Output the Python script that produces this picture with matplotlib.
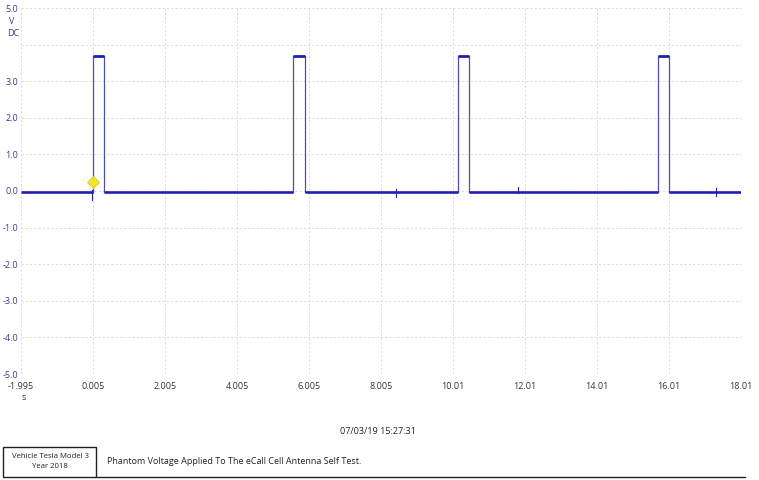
import matplotlib
matplotlib.use("Agg")
import matplotlib.pyplot as plt
from matplotlib.lines import Line2D
from matplotlib.patches import Rectangle

# ---- data ----
x_ticks = [-1.995, 0.005, 2.005, 4.005, 6.005, 8.005, 10.005, 12.005, 14.005, 16.005, 18.005]
x_tick_labels = ["-1.995", "0.005", "2.005", "4.005", "6.005", "8.005",
                 "10.01", "12.01", "14.01", "16.01", "18.01"]
y_ticks = [5.0, 3.0, 2.0, 1.0, 0.0, -1.0, -2.0, -3.0, -4.0, -5.0]
y_tick_labels = ["5.0", "3.0", "2.0", "1.0", "0.0", "-1.0", "-2.0", "-3.0", "-4.0", "-5.0"]
y_grid = [5.0, 4.0, 3.0, 2.0, 1.0, 0.0, -1.0, -2.0, -3.0, -4.0, -5.0]

pulse_rise = [0.005, 5.56, 10.14, 15.70]   # s
pulse_fall = [0.31, 5.89, 10.45, 16.01]    # s
high_level = 3.68                          # V
low_level = -0.02                          # V
spike_t = [-0.03, 8.42, 11.82, 17.32]
spike_lo = [-0.24, -0.16, -0.06, -0.14]
spike_hi = [0.02, 0.06, 0.10, 0.08]
trigger_t = 0.005
trigger_v = 0.25
t_start, t_end = -1.995, 18.01

# ---- figure ----
fig = plt.figure(figsize=(7.59, 4.80), dpi=100)
ax = fig.add_axes([21/759, 1-374/480, 720/759, 366/480])
font = "Open Sans"
plt.rcParams['font.family'] = [font, 'DejaVu Sans']

trace_c = "#1f1fb2"
edge_c = "#5050ac"

# baseline segments (between pulses)
seg_starts = [t_start] + pulse_fall
seg_ends = pulse_rise + [t_end]
for s, e in zip(seg_starts, seg_ends):
    ax.plot([s, e], [low_level, low_level], color=trace_c, lw=1.9,
            solid_capstyle="butt", zorder=3)

# spikes
for t, lo, hi in zip(spike_t, spike_lo, spike_hi):
    ax.plot([t, t], [lo, hi], color=trace_c, lw=0.8, zorder=3)

# pulses
for r, f in zip(pulse_rise, pulse_fall):
    ax.plot([r, r], [low_level, high_level], color=edge_c, lw=0.9, zorder=2)
    ax.plot([f, f], [high_level, low_level], color=edge_c, lw=0.9, zorder=2)
    ax.plot([r, f], [high_level, high_level], color=trace_c, lw=2.0,
            solid_capstyle="butt", zorder=3)

# trigger marker
ax.plot([trigger_t], [trigger_v], marker="D", markersize=6,
        markerfacecolor="#f5e52a", markeredgecolor="#d8c820", markeredgewidth=0.6,
        zorder=5, linestyle="none")

ax.set_xlim(t_start, t_end)
ax.set_ylim(-5.0, 5.0)
for s in ax.spines.values():
    s.set_visible(False)

grid_kw = dict(color="#dadada", lw=0.7, linestyle=(0, (2.2, 2.2)), zorder=1)
for xv in x_ticks:
    ax.axvline(xv, **grid_kw)
for yv in y_grid:
    ax.axhline(yv, **grid_kw)

ax.set_xticks(x_ticks)
ax.set_xticklabels(x_tick_labels)
ax.set_yticks(y_ticks)
ax.set_yticklabels(y_tick_labels)
ax.tick_params(axis="both", length=0)
ax.tick_params(axis="x", pad=6, labelsize=6.5, labelcolor="#333333")
ax.tick_params(axis="y", pad=2, labelsize=6.5, labelcolor="#3b3b9a")
for lab in ax.get_xticklabels() + ax.get_yticklabels():
    lab.set_family([font, 'DejaVu Sans'])

# unit labels
fig.text(12/759, 1-21/480, "V", ha="center", va="center", fontsize=6.5,
         color="#3b3b9a", family=[font])
fig.text(13/759, 1-34/480, "DC", ha="center", va="center", fontsize=6.5,
         color="#3b3b9a", family=[font])
fig.text(24/759, 1-398/480, "s", ha="center", va="center", fontsize=6.5,
         color="#333333", family=[font])

# timestamp
fig.text(378/759, 1-432/480, "07/03/19 15:27:31", ha="center", va="center",
         fontsize=6.5, color="#222222", family=[font])

# bottom box and line
fig.add_artist(Rectangle((3/759, 1-477/480), 93/759, 30/480, transform=fig.transFigure,
                         fill=False, edgecolor="#222222", lw=1.0))
fig.add_artist(Line2D([96/759, 745/759], [1-477/480, 1-477/480], transform=fig.transFigure,
                      color="#222222", lw=1.0))
fig.text(50/759, 1-462/480, "Vehicle Tesla Model 3\nYear 2018", ha="center", va="center",
         fontsize=5.6, color="#222222", family=[font], linespacing=1.6)
fig.text(107/759, 1-462/480, "Phantom Voltage Applied To The eCall Cell Antenna Self Test.",
         ha="left", va="center", fontsize=6.5, color="#222222", family=[font])

fig.savefig("out.png", dpi=100)
